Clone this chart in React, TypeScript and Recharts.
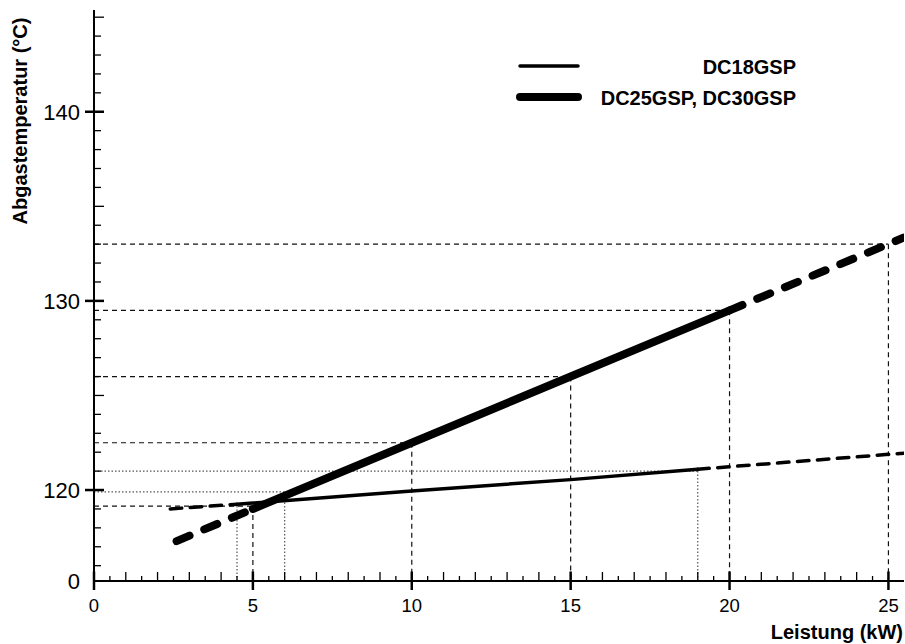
import { LineChart, Line, XAxis, YAxis, Legend, Label } from 'recharts';

// axis range (the y axis is broken: its bottom end is labelled 0)
const yBottom = 115.19;
const yTop = 145.38;
const xMax = 25.49;

// DC18GSP
const dc18Kw = [2.4, 4.5, 10, 15, 19, 25.49];
const dc18Temp = [119.0, 119.25, 119.95, 120.55, 121.1, 121.95];

// DC25GSP, DC30GSP
const dc25Kw = [2.6, 5, 10, 15, 20, 25.49];
const dc25Temp = [117.3, 119.0, 122.5, 126.0, 129.5, 133.35];

// read-off guides
const guideKw = [25, 20, 15, 10, 19, 6, 5, 4.5];
const guideTemp = [133, 129.5, 126, 122.5, 121, 119.9, 119.15, 119.15];
const guideDotted = [false, false, false, false, true, true, false, true];
const guideHoriz = [true, true, true, true, true, true, true, false];

const xMajor = [0, 5, 10, 15, 20, 25];
const yMajor = [120, 130, 140];
const yBreakLabel = '0';

const xTicks = Array.from({ length: 51 }, (_, i) => i * 0.5);
const yTicks = [yBottom, ...Array.from({ length: 30 }, (_, i) => 116 + i)];

const font = '"Liberation Sans", Arial, sans-serif';

const seg = (xs: number[], ys: number[], from: number, to: number) =>
  xs.slice(from, to + 1).map((kw, i) => ({ kw, t: ys[from + i] }));

const YTick = (props: any) => {
  const { x, y, payload } = props;
  const v = payload.value;
  if (v === yBottom) {
    return (
      <text x={x - 14} y={y} dy="0.36em" textAnchor="end" fontSize={22} fontFamily={font} fill="#000">
        {yBreakLabel}
      </text>
    );
  }
  if (yMajor.includes(v)) {
    return (
      <g>
        <line x1={x - 9} x2={x + 10} y1={y} y2={y} stroke="#000" strokeWidth={2.5} />
        <text x={x - 14} y={y} dy="0.36em" textAnchor="end" fontSize={22} fontFamily={font} fill="#000">
          {v}
        </text>
      </g>
    );
  }
  const len = v % 5 === 0 ? 10 : 7;
  return <line x1={x} x2={x + len} y1={y} y2={y} stroke="#000" strokeWidth={1.3} />;
};

const XTick = (props: any) => {
  const { x, y, payload } = props;
  const v = payload.value;
  if (xMajor.includes(v)) {
    return (
      <g>
        <line x1={x} x2={x} y1={y - 9.5} y2={y + 9} stroke="#000" strokeWidth={2.5} />
        <text x={x} y={y + 31} textAnchor="middle" fontSize={18.5} fontFamily={font} fill="#000">
          {v}
        </text>
      </g>
    );
  }
  const len = Number.isInteger(v) ? 9 : 5;
  return <line x1={x} x2={x} y1={y - len} y2={y} stroke="#000" strokeWidth={1.3} />;
};

const LegendBox = () => (
  <svg width={905} height={130} style={{ display: 'block' }}>
    <line x1={520} x2={578} y1={66} y2={66} stroke="#000" strokeWidth={3.5} strokeLinecap="round" />
    <text x={796} y={73.5} textAnchor="end" fontSize={20} fontWeight="bold" fontFamily={font} fill="#000">
      DC18GSP
    </text>
    <line x1={520} x2={578} y1={97} y2={97} stroke="#000" strokeWidth={8} strokeLinecap="round" />
    <text x={796} y={105} textAnchor="end" fontSize={20} fontWeight="bold" fontFamily={font} fill="#000">
      DC25GSP, DC30GSP
    </text>
  </svg>
);

export default function App() {
  const guides = guideKw.flatMap((kw, i) => {
    const style = guideDotted[i]
      ? { stroke: '#555', strokeDasharray: '1.5 2' }
      : { stroke: '#111', strokeDasharray: '5 4' };
    const out = [
      { key: `v${i}`, style, data: [{ kw, t: guideTemp[i] }, { kw, t: yBottom }] },
    ];
    if (guideHoriz[i]) {
      out.push({ key: `h${i}`, style, data: [{ kw: 0, t: guideTemp[i] }, { kw, t: guideTemp[i] }] });
    }
    return out;
  });

  return (
    <div style={{ position: 'absolute', left: 0, top: 0, fontFamily: font }}>
      <LineChart width={905} height={644} margin={{ top: 10, right: 1, bottom: 0, left: 0 }}>
        <XAxis
          dataKey="kw"
          type="number"
          domain={[0, xMax]}
          allowDataOverflow
          ticks={xTicks}
          interval={0}
          tickSize={0}
          tickMargin={0}
          tickLine={false}
          tick={<XTick />}
          height={63}
          axisLine={{ stroke: '#000', strokeWidth: 2 }}
        >
          <Label
            content={() => (
              <text x={903} y={639} textAnchor="end" fontSize={20} fontWeight="bold" fontFamily={font} fill="#000">
                Leistung (kW)
              </text>
            )}
          />
        </XAxis>
        <YAxis
          type="number"
          domain={[yBottom, yTop]}
          allowDataOverflow
          ticks={yTicks}
          interval={0}
          tickSize={0}
          tickMargin={0}
          tickLine={false}
          tick={<YTick />}
          width={94}
          axisLine={{ stroke: '#000', strokeWidth: 2 }}
        >
          <Label
            content={() => (
              <text
                transform="translate(27,121) rotate(-90)"
                textAnchor="middle"
                fontSize={20}
                fontWeight="bold"
                fontFamily={font}
                fill="#000"
              >
                Abgastemperatur (°C)
              </text>
            )}
          />
        </YAxis>
        <Legend
          verticalAlign="middle"
          align="center"
          content={() => <LegendBox />}
          wrapperStyle={{ position: 'absolute', left: 0, top: 0, width: 905, height: 130, pointerEvents: 'none' }}
        />
        {guides.map((g) => (
          <Line
            key={g.key}
            data={g.data}
            dataKey="t"
            stroke={g.style.stroke}
            strokeDasharray={g.style.strokeDasharray}
            strokeWidth={1.2}
            dot={false}
            activeDot={false}
            legendType="none"
            isAnimationActive={false}
          />
        ))}
        <Line data={seg(dc18Kw, dc18Temp, 0, 1)} dataKey="t" stroke="#000" strokeWidth={3.5} strokeDasharray="11.5 8.5" strokeLinecap="round" dot={false} activeDot={false} isAnimationActive={false} />
        <Line data={seg(dc18Kw, dc18Temp, 1, 4)} dataKey="t" name="DC18GSP" stroke="#000" strokeWidth={3.5} strokeLinecap="round" dot={false} activeDot={false} isAnimationActive={false} />
        <Line data={seg(dc18Kw, dc18Temp, 4, 5)} dataKey="t" stroke="#000" strokeWidth={3.5} strokeDasharray="11.5 8.5" strokeLinecap="round" dot={false} activeDot={false} isAnimationActive={false} />
        <Line data={seg(dc25Kw, dc25Temp, 0, 1)} dataKey="t" stroke="#000" strokeWidth={8} strokeDasharray="14 16" strokeLinecap="round" dot={false} activeDot={false} isAnimationActive={false} />
        <Line data={seg(dc25Kw, dc25Temp, 1, 4)} dataKey="t" name="DC25GSP, DC30GSP" stroke="#000" strokeWidth={8} strokeLinecap="round" dot={false} activeDot={false} isAnimationActive={false} />
        <Line data={seg(dc25Kw, dc25Temp, 4, 5)} dataKey="t" stroke="#000" strokeWidth={8} strokeDasharray="14 16" strokeLinecap="round" dot={false} activeDot={false} isAnimationActive={false} />
      </LineChart>
    </div>
  );
}
